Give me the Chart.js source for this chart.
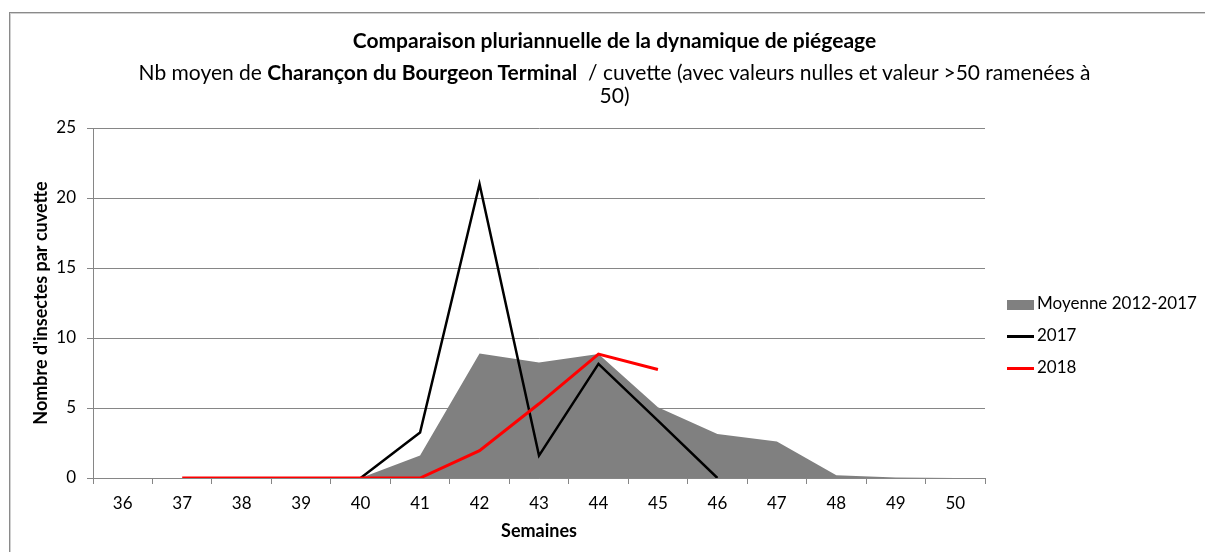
<!DOCTYPE html>
<html lang="fr">
<head>
<meta charset="utf-8">
<title>Comparaison pluriannuelle de la dynamique de piégeage</title>
<script src="https://cdn.jsdelivr.net/npm/chart.js@4.4.1/dist/chart.umd.min.js"></script>
<style>
  html, body { margin: 0; padding: 0; background: #fff; overflow: hidden; }
  #wrap { position: relative; width: 1205px; height: 552px; font-family: Lato, sans-serif; color: #000; }
  #frame { position: absolute; left: 9px; top: 12px; width: 1300px; height: 700px;
           border: 1px solid #8a8a8a; box-shadow: inset 1px 1px 0 #d0d0d0; }
  #chart { position: absolute; left: 0; top: 0; }
  .titre { position: absolute; left: 0; width: 1229px; text-align: center; white-space: nowrap; }
  #t1 { top: 27px; font-size: 21px; line-height: 25px; font-weight: bold; }
  #t2 { top: 60px; font-size: 21px; line-height: 23px; }
  #legend { position: absolute; left: 1007px; top: 287px; font-size: 17px; }
  #legend .item { height: 32px; line-height: 32px; white-space: nowrap; }
  #legend .sym { display: inline-block; width: 27px; margin-right: 3px; vertical-align: middle; }
</style>
</head>
<body>
<div id="wrap">
  <div id="frame"></div>
  <canvas id="chart" width="1205" height="552"></canvas>
  <div class="titre" id="t1">Comparaison pluriannuelle de la dynamique de piégeage</div>
  <div class="titre" id="t2">Nb moyen de <b>Charançon du Bourgeon Terminal</b>&nbsp; / cuvette (avec valeurs nulles et valeur &gt;50 ramenées à<br>50)</div>
  <div id="legend"></div>
</div>
<script>
// semaines (axe X)
var semaines = ["36", "37", "38", "39", "40", "41", "42", "43", "44", "45", "46", "47", "48", "49", "50"];
// moyenne 2012-2017 (aire grise)
var moyenne = [null, null, null, null, 0, 1.6, 8.9, 8.25, 8.85, 5.05, 3.15, 2.6, 0.2, 0.03, 0];
// année 2017
var annee2017 = [null, null, null, null, 0, 3.25, 21.0, 1.6, 8.15, 4.1, 0, null, null, null, null];
// année 2018
var annee2018 = [null, 0, 0, 0, 0, 0, 1.95, 5.3, 8.85, 7.75, null, null, null, null, null];
var yTicks = [0, 5, 10, 15, 20, 25];
var noms = ["Moyenne 2012-2017", "2017", "2018"];

var gris = "#868686";
var police = "Lato, sans-serif";

document.addEventListener("DOMContentLoaded", function () {
  var ctx = document.getElementById("chart").getContext("2d");
  var chart = new Chart(ctx, {
    type: "line",
    data: {
      labels: semaines,
      datasets: [
        {
          label: noms[0],
          data: moyenne,
          fill: "origin",
          backgroundColor: "#808080",
          borderWidth: 0,
          pointRadius: 0,
          order: 3,
        },
        {
          label: noms[1],
          data: annee2017,
          borderColor: "#000000",
          borderWidth: 2.5,
          pointRadius: 0,
          fill: false,
          order: 2,
        },
        {
          label: noms[2],
          data: annee2018,
          borderColor: "#ff0000",
          borderWidth: 3,
          pointRadius: 0,
          fill: false,
          order: 1,
        },
      ],
    },
    options: {
      responsive: false,
      animation: false,
      layout: { padding: { left: 30, top: 128, right: 220, bottom: 10 } },
      plugins: {
        legend: { display: false },
        title: { display: false },
        tooltip: { enabled: false },
      },
      scales: {
        x: {
          offset: true,
          grid: { offset: true, drawOnChartArea: false, tickLength: 6, color: gris },
          border: { color: gris },
          ticks: { color: "#000", font: { family: police, size: 17 }, padding: 9, maxRotation: 0, autoSkip: false },
          title: { display: true, text: "Semaines", color: "#000", font: { family: police, size: 18, weight: "bold" }, padding: { top: 0, bottom: 0 } },
          afterFit: function (s) { s.height = 64; },
        },
        y: {
          min: 0,
          max: 25,
          afterBuildTicks: function (s) { s.ticks = yTicks.map(function (v) { return { value: v }; }); },
          grid: { color: gris, tickLength: 6 },
          border: { color: gris },
          ticks: { color: "#000", font: { family: police, size: 17 }, padding: 11 },
          title: { display: true, text: "Nombre d'insectes par cuvette", color: "#000", font: { family: police, size: 18, weight: "bold" }, padding: { top: 0, bottom: 0 } },
          afterFit: function (s) { s.width = 63; },
        },
      },
    },
  });

  // légende à droite
  var leg = document.getElementById("legend");
  chart.data.datasets.forEach(function (ds) {
    var item = document.createElement("div");
    item.className = "item";
    var sym = document.createElement("span");
    sym.className = "sym";
    if (ds.fill === "origin") {
      sym.style.height = "10px";
      sym.style.background = ds.backgroundColor;
    } else {
      sym.style.height = ds.borderWidth + "px";
      sym.style.background = ds.borderColor;
    }
    item.appendChild(sym);
    item.appendChild(document.createTextNode(ds.label));
    leg.appendChild(item);
  });
});
</script>
</body>
</html>
